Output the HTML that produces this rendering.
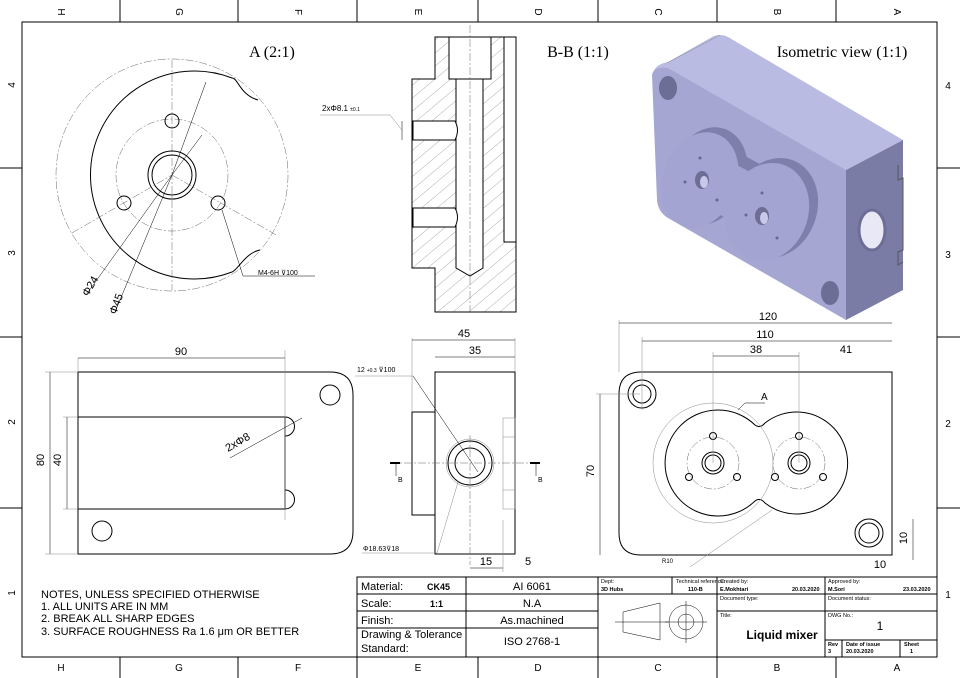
<!DOCTYPE html>
<html><head><meta charset="utf-8"><style>
html,body{margin:0;padding:0;background:#fff}
svg{display:block}
text{font-family:"Liberation Sans",sans-serif;fill:#000}
.s{font-family:"Liberation Serif",serif}
.k{stroke:#000;fill:none;stroke-width:1}
.t{stroke:#000;fill:none;stroke-width:0.5}
.d{stroke:#666;fill:none;stroke-width:0.5;stroke-dasharray:8 2 2 2}
.g{stroke:#888;fill:none;stroke-width:0.5}
</style></head><body>
<svg width="960" height="678" viewBox="0 0 960 678" xmlns="http://www.w3.org/2000/svg">
<defs>
<pattern id="h" width="10" height="10" patternUnits="userSpaceOnUse" patternTransform="rotate(-40)">
<line x1="0" y1="0" x2="10" y2="0" stroke="#777" stroke-width="0.6"/>
</pattern>
</defs>
<rect x="0" y="0" width="960" height="678" fill="#fff"/>
<!-- frame -->
<rect x="22" y="22" width="915" height="635" class="k"/>
<g class="k">
<line x1="120" y1="0" x2="120" y2="22"/><line x1="238" y1="0" x2="238" y2="22"/><line x1="357" y1="0" x2="357" y2="22"/><line x1="478" y1="0" x2="478" y2="22"/><line x1="598" y1="0" x2="598" y2="22"/><line x1="717" y1="0" x2="717" y2="22"/><line x1="836" y1="0" x2="836" y2="22"/>
<line x1="120" y1="657" x2="120" y2="678"/><line x1="238" y1="657" x2="238" y2="678"/><line x1="357" y1="657" x2="357" y2="678"/><line x1="478" y1="657" x2="478" y2="678"/><line x1="598" y1="657" x2="598" y2="678"/><line x1="717" y1="657" x2="717" y2="678"/><line x1="836" y1="657" x2="836" y2="678"/>
<line x1="0" y1="168" x2="22" y2="168"/><line x1="0" y1="337" x2="22" y2="337"/><line x1="0" y1="508" x2="22" y2="508"/>
<line x1="937" y1="168" x2="960" y2="168"/><line x1="937" y1="337" x2="960" y2="337"/><line x1="937" y1="508" x2="960" y2="508"/>
</g>
<g font-size="10" text-anchor="middle">
<text x="61" y="15" transform="rotate(90 61 12)">H</text><text x="179" y="15" transform="rotate(90 179 12)">G</text><text x="298" y="15" transform="rotate(90 298 12)">F</text><text x="418" y="15" transform="rotate(90 418 12)">E</text><text x="538" y="15" transform="rotate(90 538 12)">D</text><text x="658" y="15" transform="rotate(90 658 12)">C</text><text x="777" y="15" transform="rotate(90 777 12)">B</text><text x="897" y="15" transform="rotate(90 897 12)">A</text>
<text x="61" y="671">H</text><text x="179" y="671">G</text><text x="298" y="671">F</text><text x="418" y="671">E</text><text x="538" y="671">D</text><text x="658" y="671">C</text><text x="777" y="671">B</text><text x="897" y="671">A</text>
<text x="12" y="88" transform="rotate(-90 12 85)">4</text><text x="12" y="256" transform="rotate(-90 12 253)">3</text><text x="12" y="425" transform="rotate(-90 12 422)">2</text><text x="12" y="596" transform="rotate(-90 12 593)">1</text>
<text x="948" y="89">4</text><text x="948" y="258">3</text><text x="948" y="427">2</text><text x="948" y="598">1</text>
</g>

<!-- View A -->
<text x="272" y="57" class="s" font-size="16" text-anchor="middle">A (2:1)</text>
<circle cx="172" cy="175" r="116" class="d"/>
<path d="M258,100 C240,95 238,78 232,78 A104,104 0 1 0 232,272 C238,270 245,253 260,250" class="k"/>
<circle cx="172" cy="175" r="56" class="d"/>
<line x1="172" y1="60" x2="172" y2="290" class="d"/>
<circle cx="172" cy="175" r="24" class="k"/><circle cx="172" cy="175" r="20" class="k"/>
<circle cx="172" cy="121" r="7" class="k"/><circle cx="124" cy="203" r="7" class="k"/><circle cx="218" cy="203" r="7" class="k"/>
<line x1="72" y1="233" x2="172" y2="175" class="d"/><line x1="172" y1="175" x2="278" y2="236" class="d"/>
<line x1="172" y1="175" x2="206" y2="82" class="t"/><line x1="172" y1="175" x2="202" y2="135" class="t"/>
<line x1="172" y1="175" x2="86" y2="295" class="t"/><line x1="172" y1="175" x2="115" y2="312" class="t"/>
<line x1="222" y1="210" x2="243" y2="276" class="t"/><line x1="243" y1="276" x2="315" y2="276" class="t"/>
<text x="258" y="275" font-size="7">M4-6H ⊽100</text>
<text x="88" y="297" font-size="11" transform="rotate(-60 88 297)">Φ24</text>
<text x="116" y="315" font-size="11" transform="rotate(-70 116 315)">Φ45</text>

<!-- Section B-B -->
<text x="578" y="57" class="s" font-size="16" text-anchor="middle">B-B (1:1)</text>
<path d="M435,37 H516 V312 H435 V268 H412 V79 H435 Z" fill="url(#h)" stroke="#000"/>
<rect x="449" y="37" width="42" height="42" fill="#fff" stroke="#000"/>
<path d="M456,79 V268 L470,276 L483,268 V79 Z" fill="#fff" stroke="#000"/>
<rect x="504" y="37" width="12" height="205" fill="#fff" stroke="#000"/>
<path d="M413,121 H455 Q460,130 455,140 H413 Z" fill="#fff" stroke="#000"/>
<path d="M413,208 H455 Q460,217 455,227 H413 Z" fill="#fff" stroke="#000"/>
<line x1="470" y1="25" x2="470" y2="315" class="d"/>
<line x1="320" y1="115" x2="390" y2="115" class="g"/><line x1="390" y1="115" x2="402" y2="130" class="g"/>
<line x1="402" y1="121" x2="402" y2="140" class="t"/>
<text x="322" y="111" font-size="8">2xΦ8.1 <tspan font-size="5">±0.1</tspan></text>

<!-- Isometric -->
<text x="842" y="57" class="s" font-size="16" text-anchor="middle">Isometric view (1:1)</text>
<path d="M652,75 Q655,64 668,62 L712,37 Q720,33 728,37 L903,140 L846,170 Z" fill="#babbe2"/>
<line x1="667" y1="63" x2="720" y2="35" stroke="#888" stroke-width="0.5"/>
<path d="M846,170 L903,140 V290 L846,320 Z" fill="#7b7ca6"/>
<path d="M898,165 V180 L903,178 V250 L898,252 V265 L903,262" fill="none" stroke="#555" stroke-width="1"/>
<path d="M652,75 Q654,66 668,68 L846,170 V320 L668,218 Q658,212 657,200 Z" fill="#a5a6d2"/>
<g fill="#7e7fab">
<ellipse cx="708" cy="176" rx="38" ry="50" transform="rotate(20 708 176)"/>
<ellipse cx="775" cy="208" rx="42" ry="51" transform="rotate(20 775 208)"/>
<rect x="715" y="160" width="60" height="60" transform="rotate(28 745 190)"/>
</g>
<g fill="#a3a4d1">
<ellipse cx="700" cy="180" rx="37" ry="49" transform="rotate(20 700 180)"/>
<ellipse cx="767" cy="212" rx="41" ry="50" transform="rotate(20 767 212)"/>
<rect x="708" y="168" width="56" height="52" transform="rotate(28 736 194)"/>
</g>
<ellipse cx="702" cy="180" rx="7" ry="9" fill="#6d6e96"/><ellipse cx="762" cy="216" rx="7" ry="9" fill="#6d6e96"/>
<ellipse cx="704" cy="182" rx="4" ry="6" fill="#c8c9ea"/><ellipse cx="764" cy="218" rx="4" ry="6" fill="#c8c9ea"/>
<ellipse cx="668" cy="88" rx="9" ry="12" fill="#6d6e96"/><ellipse cx="830" cy="293" rx="9" ry="12" fill="#6d6e96"/>
<ellipse cx="872" cy="230" rx="13" ry="20" fill="#e8e8f6" stroke="#6d6e96" stroke-width="3"/>
<g fill="#66678e"><circle cx="700" cy="158" r="1.5"/><circle cx="685" cy="182" r="1.5"/><circle cx="717" cy="200" r="1.5"/><circle cx="762" cy="193" r="1.5"/><circle cx="746" cy="215" r="1.5"/><circle cx="777" cy="238" r="1.5"/></g>

<!-- Front view -->
<path d="M78,372 H330 Q353,372 353,395 V531 Q353,554 330,554 H78 Z" class="k"/>
<path d="M78,417 H285 V509 H78" class="k"/>
<path d="M285,417 A9,9 0 0 1 285,436" class="k"/><path d="M285,490 A9,9 0 0 1 285,509" class="k"/>
<circle cx="330" cy="395" r="10" class="k"/><circle cx="102" cy="531" r="10" class="k"/>
<line x1="285" y1="350" x2="285" y2="520" class="g"/>
<line x1="78" y1="358" x2="78" y2="372" class="g"/>
<line x1="78" y1="358" x2="285" y2="358" class="t"/>
<text x="181" y="355" font-size="11" text-anchor="middle">90</text>
<line x1="50" y1="372" x2="50" y2="554" class="t"/><line x1="45" y1="372" x2="78" y2="372" class="g"/><line x1="45" y1="554" x2="78" y2="554" class="g"/>
<line x1="67" y1="417" x2="67" y2="509" class="t"/><line x1="63" y1="417" x2="78" y2="417" class="g"/><line x1="63" y1="509" x2="78" y2="509" class="g"/>
<text x="47" y="463" font-size="11" transform="rotate(-90 44 463)" text-anchor="middle">80</text>
<text x="64" y="463" font-size="11" transform="rotate(-90 61 463)" text-anchor="middle">40</text>
<line x1="230" y1="458" x2="302" y2="418" class="t"/>
<text x="228" y="452" font-size="11" transform="rotate(-30 228 452)">2xΦ8</text>

<!-- Side view -->
<rect x="435" y="372" width="80" height="182" class="k"/>
<rect x="412" y="412" width="23" height="103" class="k"/>
<rect x="503" y="418" width="12" height="91" class="g"/>
<line x1="503" y1="437" x2="515" y2="437" class="g"/><line x1="503" y1="490" x2="515" y2="490" class="g"/>
<circle cx="470" cy="463" r="22" class="k"/><circle cx="470" cy="463" r="15" class="k"/><circle cx="470" cy="463" r="24" class="g"/>
<line x1="390" y1="463" x2="540" y2="463" class="d"/><line x1="470" y1="435" x2="470" y2="565" class="d"/>
<rect x="390" y="462" width="10" height="2"/><rect x="530" y="462" width="10" height="2"/>
<line x1="396" y1="464" x2="396" y2="476" class="t"/><line x1="536" y1="464" x2="536" y2="476" class="t"/>
<text x="398" y="482" font-size="7">B</text><text x="538" y="482" font-size="7">B</text>
<line x1="412" y1="338" x2="412" y2="412" class="g"/><line x1="515" y1="338" x2="515" y2="372" class="g"/>
<line x1="412" y1="340" x2="515" y2="340" class="t"/><text x="464" y="337" font-size="11" text-anchor="middle">45</text>
<line x1="435" y1="357" x2="515" y2="357" class="t"/><text x="475" y="354" font-size="11" text-anchor="middle">35</text>
<line x1="355" y1="376" x2="413" y2="376" class="g"/><line x1="413" y1="376" x2="478" y2="472" class="t"/>
<text x="357" y="372" font-size="7">12 <tspan font-size="5">+0.3</tspan> ⊽100</text>
<line x1="458" y1="482" x2="437" y2="553" class="g"/><line x1="362" y1="553" x2="437" y2="553" class="g"/>
<text x="363" y="551" font-size="7">Φ18.63⊽18</text>
<line x1="470" y1="568" x2="503" y2="568" class="t"/><line x1="503" y1="520" x2="503" y2="572" class="g"/>
<text x="486" y="565" font-size="11" text-anchor="middle">15</text><text x="528" y="565" font-size="11" text-anchor="middle">5</text>

<!-- Right view -->
<path d="M641,372 H892 V555 H641 Q619,555 619,533 V394 Q619,372 641,372 Z" class="k"/>
<circle cx="642" cy="394" r="14" class="k"/><circle cx="642" cy="394" r="9" class="k"/>
<circle cx="869" cy="533" r="14" class="k"/><circle cx="869" cy="533" r="10" class="k"/>
<path d="M755,425 A53,53 0 1 0 755,501 Q760,497 765,503 A51,51 0 1 0 765,423 Q760,429 755,425 Z" class="k"/>
<circle cx="713" cy="463" r="60" class="g"/>
<circle cx="713" cy="463" r="26" class="d"/><circle cx="799" cy="463" r="26" class="d"/>
<circle cx="713" cy="463" r="11" class="k"/><circle cx="713" cy="463" r="8" class="k"/>
<circle cx="799" cy="463" r="11" class="k"/><circle cx="799" cy="463" r="8" class="k"/>
<g class="k"><circle cx="713" cy="436" r="3.5"/><circle cx="689" cy="477" r="3.5"/><circle cx="737" cy="477" r="3.5"/><circle cx="799" cy="436" r="3.5"/><circle cx="775" cy="477" r="3.5"/><circle cx="823" cy="477" r="3.5"/></g>
<line x1="713" y1="352" x2="713" y2="463" class="g"/><line x1="799" y1="352" x2="799" y2="463" class="g"/>
<line x1="642" y1="337" x2="642" y2="410" class="g"/><line x1="619" y1="320" x2="619" y2="372" class="g"/>
<line x1="619" y1="323" x2="892" y2="323" class="t"/><text x="768" y="320" font-size="11" text-anchor="middle">120</text>
<line x1="642" y1="341" x2="892" y2="341" class="t"/><text x="765" y="338" font-size="11" text-anchor="middle">110</text>
<line x1="713" y1="356" x2="799" y2="356" class="t"/><text x="756" y="353" font-size="11" text-anchor="middle">38</text>
<text x="846" y="353" font-size="11" text-anchor="middle">41</text>
<line x1="600" y1="394" x2="600" y2="555" class="t"/><line x1="596" y1="394" x2="640" y2="394" class="g"/>
<text x="597" y="474" font-size="11" transform="rotate(-90 594 474)" text-anchor="middle">70</text>
<line x1="913" y1="519" x2="913" y2="560" class="t"/><text x="910" y="541" font-size="11" transform="rotate(-90 907 541)" text-anchor="middle">10</text>
<text x="880" y="568" font-size="11" text-anchor="middle">10</text>
<line x1="745" y1="403" x2="765" y2="403" class="t"/><line x1="745" y1="403" x2="738" y2="410" class="t"/>
<text x="761" y="400" font-size="10">A</text>
<line x1="772" y1="510" x2="690" y2="567" class="g"/><text x="662" y="563" font-size="6">R10</text>

<!-- notes -->
<g class="s" font-size="11">
<text x="41" y="598">NOTES, UNLESS SPECIFIED OTHERWISE</text>
<text x="41" y="610">1. ALL UNITS ARE IN MM</text>
<text x="41" y="622">2. BREAK ALL SHARP EDGES</text>
<text x="41" y="635">3. SURFACE ROUGHNESS Ra 1.6 μm OR BETTER</text>
</g>

<!-- title block -->
<g class="k">
<rect x="357" y="577" width="580" height="80"/>
<line x1="357" y1="594" x2="598" y2="594"/><line x1="357" y1="611" x2="598" y2="611"/><line x1="357" y1="628" x2="598" y2="628"/>
<line x1="466" y1="577" x2="466" y2="657"/><line x1="598" y1="577" x2="598" y2="657"/>
<line x1="598" y1="594" x2="937" y2="594"/><line x1="672" y1="577" x2="672" y2="594"/>
<line x1="717" y1="577" x2="717" y2="657"/><line x1="825" y1="577" x2="825" y2="657"/>
<line x1="717" y1="611" x2="937" y2="611"/><line x1="825" y1="640" x2="937" y2="640"/>
<line x1="842" y1="640" x2="842" y2="657"/><line x1="900" y1="640" x2="900" y2="657"/>
</g>
<g class="s">
<text x="361" y="590" font-size="11">Material:</text><text x="427" y="590" font-size="9" font-weight="bold">CK45</text>
<text x="361" y="607" font-size="11">Scale:</text><text x="430" y="607" font-size="9" font-weight="bold">1:1</text>
<text x="361" y="624" font-size="11">Finish:</text>
<text x="361" y="638" font-size="11">Drawing &amp; Tolerance</text><text x="361" y="652" font-size="11">Standard:</text>
<text x="532" y="590" font-size="11" text-anchor="middle">AI 6061</text>
<text x="532" y="607" font-size="11" text-anchor="middle">N.A</text>
<text x="532" y="624" font-size="11" text-anchor="middle">As.machined</text>
<text x="532" y="645" font-size="11" text-anchor="middle">ISO 2768-1</text>
<g font-size="5.5"><text x="601" y="583">Dept:</text><text x="601" y="591" font-weight="bold">3D Hubs</text>
<text x="676" y="583">Technical reference:</text><text x="688" y="591" font-weight="bold">110-B</text>
<text x="720" y="583">Created by:</text><text x="720" y="591" font-weight="bold">E.Mokhtari</text><text x="792" y="591" font-weight="bold">20.03.2020</text>
<text x="828" y="583">Approved by:</text><text x="828" y="591" font-weight="bold">M.Sori</text><text x="903" y="591" font-weight="bold">23.03.2020</text>
<text x="720" y="600">Document type:</text><text x="828" y="600">Document status:</text>
<text x="720" y="617">Title:</text><text x="828" y="617">DWG No.:</text>
<text x="828" y="646" font-weight="bold">Rev</text><text x="828" y="653" font-weight="bold">3</text>
<text x="846" y="646" font-weight="bold">Date of issue</text><text x="846" y="653" font-weight="bold">20.03.2020</text>
<text x="904" y="646" font-weight="bold">Sheet</text><text x="910" y="653" font-weight="bold">1</text></g>
<text x="782" y="639" font-size="12" font-weight="bold" text-anchor="middle">Liquid mixer</text>
<text x="880" y="630" font-size="12" text-anchor="middle">1</text>
</g>
<path d="M623,612 L660,603 V640 L623,632 Z" class="t"/><line x1="615" y1="622" x2="668" y2="622" class="t"/>
<circle cx="686" cy="622" r="17" class="t"/><circle cx="686" cy="622" r="8" class="t"/>
<line x1="686" y1="601" x2="686" y2="643" class="t"/><line x1="665" y1="622" x2="707" y2="622" class="t"/>
</svg>
</body></html>
